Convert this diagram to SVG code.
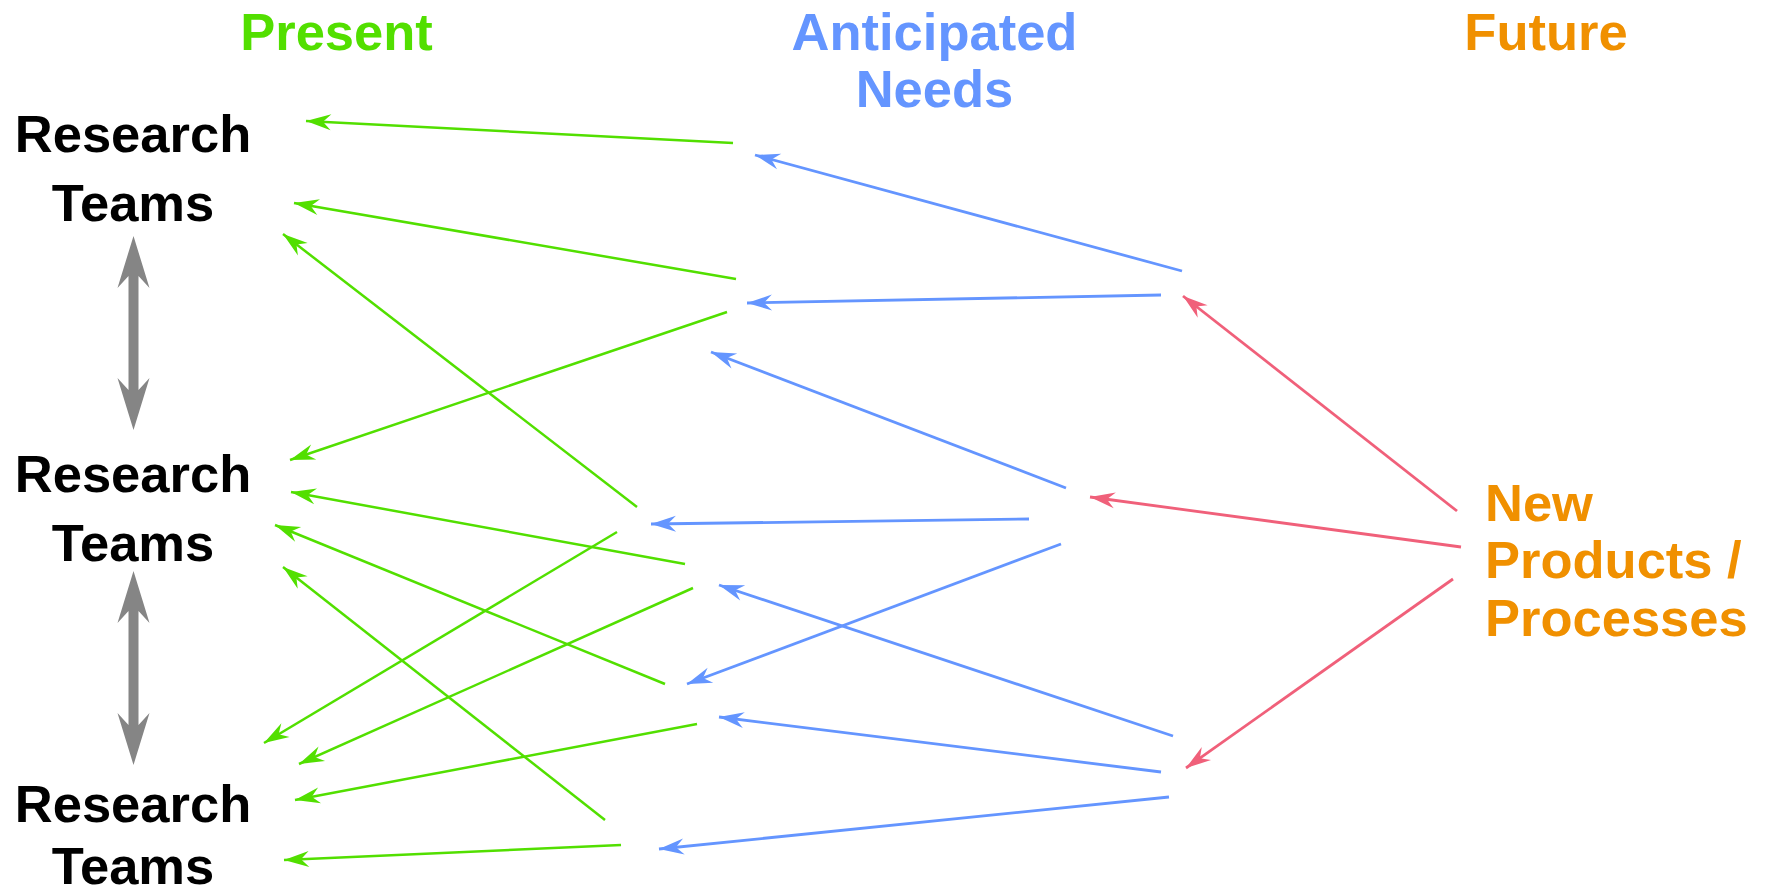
<svg xmlns="http://www.w3.org/2000/svg" width="1765" height="896" viewBox="0 0 1765 896">
  <style>
    text { font-family: "Liberation Sans", Arial, Helvetica, sans-serif; font-weight: bold; font-size: 52.5px; }
    .mid { text-anchor: middle; }
    .team { fill: #000000; }
    .present { fill: #52DF00; }
    .needs { fill: #6495FF; }
    .future { fill: #F09000; }
    .g { stroke: #52DF00; stroke-width: 2.5; fill: none; marker-end: url(#headG); }
    .b { stroke: #6495FF; stroke-width: 2.8; fill: none; marker-end: url(#headB); }
    .r { stroke: #F0607A; stroke-width: 2.8; fill: none; marker-end: url(#headR); }
    .link { fill: #858585; }
  </style>
  <defs>
    <marker id="headG" markerUnits="userSpaceOnUse" viewBox="-26 -9 27 18" refX="0" refY="0" markerWidth="27" markerHeight="18" orient="auto">
      <path d="M0,0 L-25,-8 L-17,0 L-25,8 Z" fill="#52DF00"/>
    </marker>
    <marker id="headB" markerUnits="userSpaceOnUse" viewBox="-26 -9 27 18" refX="0" refY="0" markerWidth="27" markerHeight="18" orient="auto">
      <path d="M0,0 L-25,-8 L-17,0 L-25,8 Z" fill="#6495FF"/>
    </marker>
    <marker id="headR" markerUnits="userSpaceOnUse" viewBox="-26 -9 27 18" refX="0" refY="0" markerWidth="27" markerHeight="18" orient="auto">
      <path d="M0,0 L-25,-8 L-17,0 L-25,8 Z" fill="#F0607A"/>
    </marker>
  </defs>

  <rect width="1765" height="896" fill="#ffffff"/>

  <!-- column headings -->
  <g id="heading-present">
    <text class="mid present" x="336.5" y="50">Present</text>
  </g>
  <g id="heading-anticipated">
    <text class="mid needs" x="934.5" y="50">Anticipated</text>
    <text class="mid needs" x="934.5" y="107">Needs</text>
  </g>
  <g id="heading-future">
    <text class="mid future" x="1546" y="50">Future</text>
  </g>

  <!-- research team nodes -->
  <g id="team-1">
    <text class="mid team" x="133" y="152">Research</text>
    <text class="mid team" x="133" y="221">Teams</text>
  </g>
  <g id="team-2">
    <text class="mid team" x="133" y="492">Research</text>
    <text class="mid team" x="133" y="561">Teams</text>
  </g>
  <g id="team-3">
    <text class="mid team" x="133" y="822">Research</text>
    <text class="mid team" x="133" y="884">Teams</text>
  </g>

  <!-- future node -->
  <g id="new-products">
    <text class="future" x="1485" y="521">New</text>
    <text class="future" x="1485" y="578">Products /</text>
    <text class="future" x="1485" y="636">Processes</text>
  </g>

  <!-- two-way links between teams -->
  <g id="team-links">
    <polygon class="link" points="133.5,236 149.5,288 138.5,276 138.5,390 149.5,378 133.5,430 117.5,378 128.5,390 128.5,276 117.5,288"/>
    <polygon class="link" points="133.5,571 149.5,623 138.5,611 138.5,725 149.5,713 133.5,765 117.5,713 128.5,725 128.5,611 117.5,623"/>
  </g>

  <g id="connectors">
    <!-- needs to present teams -->
    <line class="g" x1="733" y1="143" x2="306" y2="121"/>
    <line class="g" x1="736" y1="279" x2="294" y2="203"/>
    <line class="g" x1="637" y1="507" x2="283" y2="234"/>
    <line class="g" x1="727" y1="312" x2="290" y2="460"/>
    <line class="g" x1="685" y1="564" x2="291" y2="492"/>
    <line class="g" x1="665" y1="684" x2="275" y2="525"/>
    <line class="g" x1="605" y1="820" x2="283" y2="567"/>
    <line class="g" x1="617" y1="532" x2="264" y2="743"/>
    <line class="g" x1="693" y1="588" x2="299" y2="764"/>
    <line class="g" x1="697" y1="724" x2="295" y2="800"/>
    <line class="g" x1="621" y1="845" x2="284" y2="860"/>

    <!-- between anticipated needs -->
    <line class="b" x1="1182" y1="271" x2="755" y2="155"/>
    <line class="b" x1="1161" y1="295" x2="747" y2="303"/>
    <line class="b" x1="1066" y1="488" x2="711" y2="352"/>
    <line class="b" x1="1029" y1="519" x2="651" y2="524"/>
    <line class="b" x1="1061" y1="544" x2="687" y2="684"/>
    <line class="b" x1="1173" y1="736" x2="719" y2="585"/>
    <line class="b" x1="1161" y1="772" x2="719" y2="717"/>
    <line class="b" x1="1169" y1="797" x2="659" y2="849"/>

    <!-- from new products / processes -->
    <line class="r" x1="1457" y1="511" x2="1183" y2="296"/>
    <line class="r" x1="1461" y1="547" x2="1090" y2="497"/>
    <line class="r" x1="1453" y1="579" x2="1186" y2="768"/>
  </g>
</svg>
